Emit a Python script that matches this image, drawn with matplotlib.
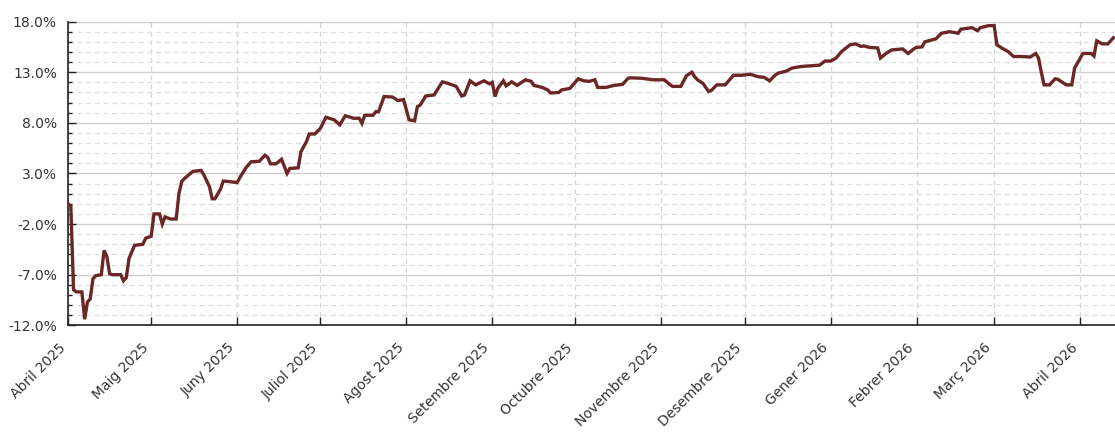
import matplotlib
matplotlib.use("Agg")
import matplotlib.pyplot as plt
from matplotlib.ticker import MultipleLocator, FuncFormatter
import pandas as pd

dates = [
    "2025-04-01", "2025-04-02", "2025-04-03", "2025-04-04", "2025-04-06", "2025-04-07",
    "2025-04-08", "2025-04-09", "2025-04-10", "2025-04-11", "2025-04-13", "2025-04-14",
    "2025-04-15", "2025-04-16", "2025-04-17", "2025-04-20", "2025-04-21", "2025-04-22",
    "2025-04-23", "2025-04-25", "2025-04-28", "2025-04-29", "2025-04-30", "2025-05-01",
    "2025-05-02", "2025-05-04", "2025-05-05", "2025-05-06", "2025-05-08", "2025-05-10",
    "2025-05-11", "2025-05-12", "2025-05-13", "2025-05-16", "2025-05-19", "2025-05-20",
    "2025-05-22", "2025-05-23", "2025-05-24", "2025-05-26", "2025-05-27", "2025-05-29",
    "2025-06-01", "2025-06-02", "2025-06-04", "2025-06-06", "2025-06-09", "2025-06-11",
    "2025-06-12", "2025-06-13", "2025-06-15", "2025-06-17", "2025-06-18", "2025-06-19",
    "2025-06-20", "2025-06-23", "2025-06-24", "2025-06-26", "2025-06-27", "2025-06-29",
    "2025-07-01", "2025-07-02", "2025-07-03", "2025-07-06", "2025-07-08", "2025-07-10",
    "2025-07-13", "2025-07-15", "2025-07-16", "2025-07-17", "2025-07-20", "2025-07-21",
    "2025-07-22", "2025-07-24", "2025-07-27", "2025-07-29", "2025-07-31", "2025-08-02",
    "2025-08-04", "2025-08-05", "2025-08-06", "2025-08-08", "2025-08-11", "2025-08-14",
    "2025-08-16", "2025-08-19", "2025-08-21", "2025-08-22", "2025-08-24", "2025-08-26",
    "2025-08-29", "2025-08-31", "2025-09-01", "2025-09-02", "2025-09-03", "2025-09-05",
    "2025-09-06", "2025-09-08", "2025-09-10", "2025-09-13", "2025-09-15", "2025-09-16",
    "2025-09-19", "2025-09-21", "2025-09-22", "2025-09-25", "2025-09-26", "2025-09-29",
    "2025-10-02", "2025-10-04", "2025-10-06", "2025-10-08", "2025-10-09", "2025-10-12",
    "2025-10-15", "2025-10-18", "2025-10-20", "2025-10-21", "2025-10-25", "2025-10-29",
    "2025-11-02", "2025-11-04", "2025-11-05", "2025-11-08", "2025-11-10", "2025-11-12",
    "2025-11-13", "2025-11-14", "2025-11-16", "2025-11-18", "2025-11-19", "2025-11-21",
    "2025-11-24", "2025-11-27", "2025-11-30", "2025-12-03", "2025-12-06", "2025-12-08",
    "2025-12-10", "2025-12-12", "2025-12-13", "2025-12-16", "2025-12-18", "2025-12-21",
    "2025-12-23", "2025-12-26", "2025-12-28", "2025-12-30", "2026-01-01", "2026-01-03",
    "2026-01-05", "2026-01-08", "2026-01-10", "2026-01-12", "2026-01-13", "2026-01-15",
    "2026-01-18", "2026-01-19", "2026-01-21", "2026-01-23", "2026-01-27", "2026-01-29",
    "2026-01-31", "2026-02-01", "2026-02-03", "2026-02-04", "2026-02-08", "2026-02-10",
    "2026-02-13", "2026-02-16", "2026-02-17", "2026-02-21", "2026-02-23", "2026-02-24",
    "2026-02-27", "2026-03-01", "2026-03-02", "2026-03-04", "2026-03-06", "2026-03-08",
    "2026-03-11", "2026-03-14", "2026-03-16", "2026-03-17", "2026-03-18", "2026-03-19",
    "2026-03-21", "2026-03-23", "2026-03-24", "2026-03-27", "2026-03-29", "2026-03-30",
    "2026-04-02", "2026-04-05", "2026-04-06", "2026-04-07", "2026-04-09", "2026-04-11",
    "2026-04-13",
]

returns_pct = [
    0.0, -0.2, -8.5, -8.7, -8.7, -11.4,
    -9.7, -9.4, -7.4, -7.1, -7.0, -4.6,
    -5.2, -6.9, -7.0, -7.0, -7.6, -7.3,
    -5.4, -4.1, -4.0, -3.4, -3.3, -3.2,
    -1.0, -1.0, -2.0, -1.3, -1.5, -1.5,
    1.0, 2.2, 2.5, 3.2, 3.3, 2.85,
    1.7, 0.5, 0.5, 1.45, 2.25, 2.2,
    2.1, 2.6, 3.5, 4.15, 4.2, 4.8,
    4.6, 3.95, 3.95, 4.4, 3.7, 3.0,
    3.5, 3.55, 5.15, 6.15, 6.9, 6.9,
    7.45, 8.0, 8.55, 8.3, 7.8, 8.7,
    8.45, 8.45, 7.95, 8.75, 8.75, 9.1,
    9.1, 10.6, 10.55, 10.2, 10.3, 8.3,
    8.2, 9.6, 9.75, 10.65, 10.75, 12.05,
    11.9, 11.6, 10.65, 10.75, 12.15, 11.75,
    12.15, 11.85, 12.0, 10.6, 11.4, 12.15,
    11.65, 12.05, 11.7, 12.25, 12.1, 11.7,
    11.5, 11.25, 10.95, 11.0, 11.25, 11.4,
    12.35, 12.15, 12.1, 12.25, 11.5, 11.5,
    11.7, 11.8, 12.4, 12.45, 12.4, 12.25,
    12.25, 11.8, 11.6, 11.6, 12.65, 13.0,
    12.55, 12.25, 11.9, 11.1, 11.2, 11.75,
    11.75, 12.7, 12.7, 12.8, 12.55, 12.5,
    12.15, 12.7, 12.9, 13.1, 13.4, 13.55,
    13.6, 13.65, 13.7, 14.1, 14.1, 14.4,
    15.05, 15.7, 15.8, 15.55, 15.6, 15.45,
    15.4, 14.4, 14.85, 15.2, 15.3, 14.85,
    15.3, 15.45, 15.5, 16.0, 16.3, 16.85,
    17.0, 16.85, 17.25, 17.4, 17.1, 17.4,
    17.6, 17.6, 15.7, 15.35, 15.05, 14.55,
    14.55, 14.5, 14.85, 14.4, 13.0, 11.75,
    11.75, 12.35, 12.3, 11.75, 11.75, 13.4,
    14.85, 14.85, 14.6, 16.1, 15.8, 15.8,
    16.4,
]

month_ticks = [
    "2025-04-01", "2025-05-01", "2025-06-01", "2025-07-01", "2025-08-01",
    "2025-09-01", "2025-10-01", "2025-11-01", "2025-12-01", "2026-01-01",
    "2026-02-01", "2026-03-01", "2026-04-01",
]
month_labels = [
    "Abril 2025", "Maig 2025", "Juny 2025", "Juliol 2025", "Agost 2025",
    "Setembre 2025", "Octubre 2025", "Novembre 2025", "Desembre 2025",
    "Gener 2026", "Febrer 2026", "Març 2026", "Abril 2026",
]

x = pd.to_datetime(dates)
tick_x = pd.to_datetime(month_ticks)

fig = plt.figure(figsize=(11.15, 4.32), dpi=100)
ax = fig.add_axes([0.061, 0.247, 0.939, 0.703])

ax.plot(x, returns_pct, color="#6b2626", lw=2.4, solid_joinstyle="miter", zorder=3)

ax.set_ylim(-12, 18)
ax.set_xlim(pd.Timestamp("2025-04-01"), pd.Timestamp("2026-04-13 14:00"))

ax.yaxis.set_minor_locator(MultipleLocator(1))
ax.set_yticks([-12, -7, -2, 3, 8, 13, 18])
ax.yaxis.set_major_formatter(FuncFormatter(lambda v, p: f"{v:.1f}%"))

ax.set_xticks(tick_x)
ax.set_xticklabels(month_labels, rotation=45, ha="right")

ax.grid(axis="y", which="major", color="#cfcfcf", lw=1.0, ls="-")
ax.grid(axis="y", which="minor", color="#dedede", lw=0.9, ls=(0, (4, 3)))
ax.grid(axis="x", which="major", color="#d5d5d5", lw=0.9, ls=(0, (4, 3)))
ax.set_axisbelow(True)

ax.tick_params(axis="both", which="major", direction="in", length=6, width=1,
               color="#222222", labelsize=10, labelcolor="#333333")
ax.tick_params(axis="y", which="minor", direction="in", length=3, width=1, color="#222222")
ax.tick_params(axis="y", which="major", pad=8)
ax.tick_params(axis="x", which="major", pad=11)

for s in ["top", "right"]:
    ax.spines[s].set_visible(False)
for s in ["left", "bottom"]:
    ax.spines[s].set_color("#222222")
    ax.spines[s].set_linewidth(1.2)

fig.savefig("out.png", dpi=100)
